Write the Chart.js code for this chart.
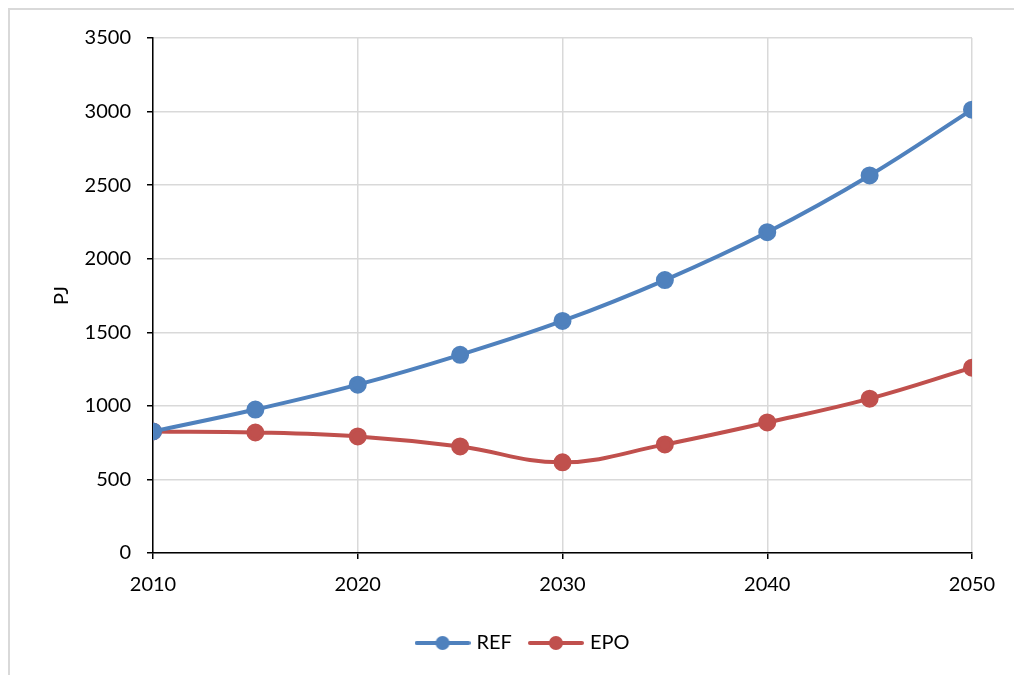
<!DOCTYPE html>
<html>
<head>
<meta charset="utf-8">
<script src="https://cdn.jsdelivr.net/npm/chart.js@4.4.0/dist/chart.umd.min.js"></script>
<style>
    body { margin: 0; background: #fff; }
    #wrap { width: 1014px; height: 675px; }
</style>
</head>
<body>
<div id="wrap"><canvas id="chart" width="1014" height="675"></canvas></div>
<script>
const years = [2010, 2015, 2020, 2025, 2030, 2035, 2040, 2045, 2050];
const refValues = [826, 975, 1144, 1347, 1577, 1855, 2180, 2566, 3013];
const epoValues = [826, 819, 792, 724, 616, 738, 887, 1049, 1259];
const seriesNames = ["REF", "EPO"];
const seriesColors = ["#4F81BD", "#C0504D"];

const FONT = "Lato, 'Open Sans', sans-serif";
const FSIZE = 20;

function legendIcon(color) {
    const c = document.createElement("canvas");
    c.width = 56;
    c.height = 16;
    const g = c.getContext("2d");
    g.strokeStyle = color;
    g.lineWidth = 4;
    g.lineCap = "round";
    g.beginPath();
    g.moveTo(2, 8);
    g.lineTo(54, 8);
    g.stroke();
    g.fillStyle = color;
    g.beginPath();
    g.arc(28, 8, 7, 0, Math.PI * 2);
    g.fill();
    return c;
}

const framePlugin = {
    id: "frame",
    afterLayout(chart) {
        // nudge legend to the right like the original
        chart.legend.left += 13;
        chart.legend.right += 13;
    },
    beforeDraw(chart) {
        const ctx = chart.ctx;
        ctx.save();
        ctx.strokeStyle = "#d9d9d9";
        ctx.lineWidth = 2;
        ctx.strokeRect(9, 9, 1200, 1200);
        ctx.restore();
    }
};

function makeDataset(i, values) {
    return {
        label: seriesNames[i],
        data: years.map((y, k) => ({ x: y, y: values[k] })),
        borderColor: seriesColors[i],
        backgroundColor: seriesColors[i],
        borderWidth: 4,
        pointStyle: "circle",
        pointRadius: 7,
        pointHoverRadius: 7,
        tension: 0.4
    };
}

new Chart(document.getElementById("chart"), {
    type: "line",
    data: {
        datasets: [makeDataset(0, refValues), makeDataset(1, epoValues)]
    },
    plugins: [framePlugin],
    options: {
        responsive: false,
        animation: false,
        layout: { padding: { left: 50, top: 38, right: 42, bottom: 12 } },
        plugins: {
            tooltip: { enabled: false },
            legend: {
                position: "bottom",
                labels: {
                    usePointStyle: true,
                    pointStyleWidth: 48,
                    padding: 20,
                    color: "#000",
                    font: { family: FONT, size: FSIZE },
                    generateLabels(chart) {
                        return chart.data.datasets.map((ds, i) => ({
                            text: ds.label,
                            pointStyle: legendIcon(seriesColors[i]),
                            fillStyle: seriesColors[i],
                            strokeStyle: seriesColors[i],
                            lineWidth: 0,
                            fontColor: "#000",
                            datasetIndex: i
                        }));
                    }
                }
            }
        },
        scales: {
            x: {
                type: "linear",
                min: 2010,
                max: 2050,
                afterFit(scale) { scale.height = 60; },
                ticks: {
                    stepSize: 10,
                    color: "#000",
                    padding: 14,
                    font: { family: FONT, size: FSIZE },
                    callback: v => String(v)
                },
                grid: {
                    color: "#d9d9d9",
                    lineWidth: 1.5,
                    tickColor: "#000",
                    tickLength: 6
                },
                border: { color: "#000", width: 1.5 }
            },
            y: {
                min: 0,
                max: 3500,
                afterFit(scale) { scale.width = 103; },
                ticks: {
                    stepSize: 500,
                    color: "#000",
                    padding: 16,
                    font: { family: FONT, size: FSIZE },
                    callback: v => String(v)
                },
                title: {
                    display: true,
                    text: "PJ",
                    color: "#000",
                    padding: 0,
                    font: { family: FONT, size: FSIZE }
                },
                grid: {
                    color: "#d9d9d9",
                    lineWidth: 1.5,
                    tickColor: "#000",
                    tickLength: 6
                },
                border: { color: "#000", width: 1.5 }
            }
        }
    }
});
</script>
</body>
</html>
